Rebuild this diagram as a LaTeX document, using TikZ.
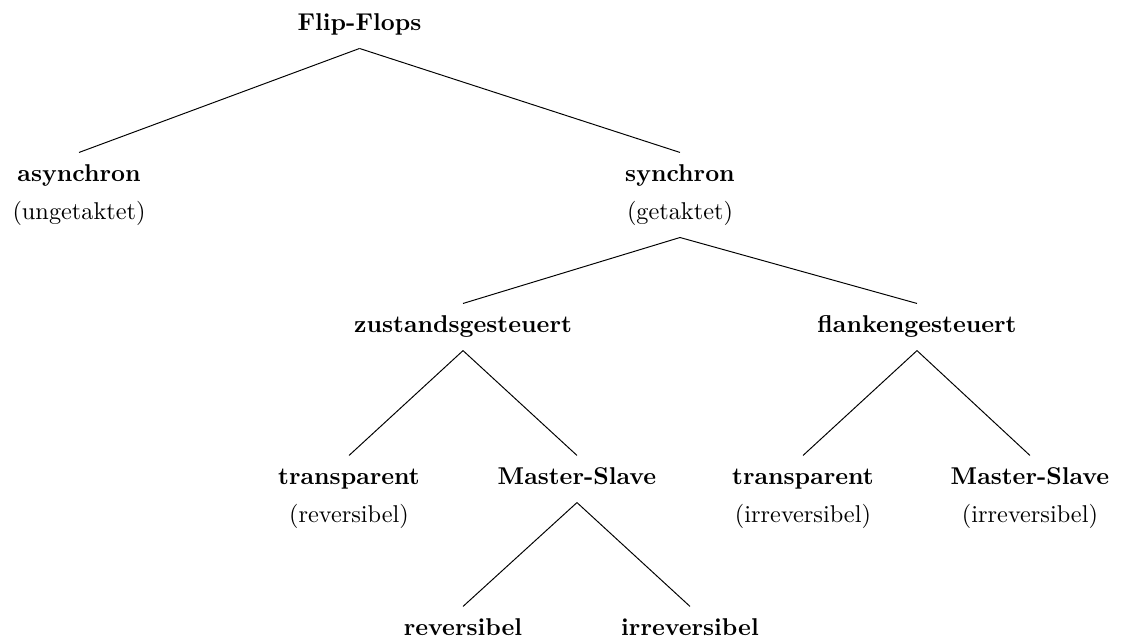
\documentclass[tikz,border=0pt]{standalone}
\tikzset{ff/.style={align=center, inner sep=3.5pt}}
\begin{document}
\begin{tikzpicture}
\useasboundingbox (0,0) rectangle (16.286,-9.271);
\node[ff] (ff) at (5.20,-0.360) {\textbf{Flip-Flops}\strut};
\node[ff] (async) at (1.143,-2.820) {\textbf{asynchron}\strut\\[3.6pt](ungetaktet)\strut};
\node[ff] (sync) at (9.835,-2.820) {\textbf{synchron}\strut\\[3.6pt](getaktet)\strut};
\node[ff] (zust) at (6.697,-4.730) {\textbf{zustandsgesteuert}\strut};
\node[ff] (flank) at (13.263,-4.730) {\textbf{flankengesteuert}\strut};
\node[ff] (trL) at (5.048,-7.203) {\textbf{transparent}\strut\\[3.6pt](reversibel)\strut};
\node[ff] (msL) at (8.345,-6.928) {\textbf{Master-Slave}\strut};
\node[ff] (trR) at (11.614,-7.203) {\textbf{transparent}\strut\\[3.6pt](irreversibel)\strut};
\node[ff] (msR) at (14.897,-7.203) {\textbf{Master-Slave}\strut\\[3.6pt](irreversibel)\strut};
\node[ff] (rev) at (6.697,-9.112) {\textbf{reversibel}\strut};
\node[ff] (irr) at (9.980,-9.112) {\textbf{irreversibel}\strut};
\draw (ff.south) -- (async.north);
\draw (ff.south) -- (sync.north);
\draw (sync.south) -- (zust.north);
\draw (sync.south) -- (flank.north);
\draw (zust.south) -- (trL.north);
\draw (zust.south) -- (msL.north);
\draw (flank.south) -- (trR.north);
\draw (flank.south) -- (msR.north);
\draw (msL.south) -- (rev.north);
\draw (msL.south) -- (irr.north);
\end{tikzpicture}
\end{document}
